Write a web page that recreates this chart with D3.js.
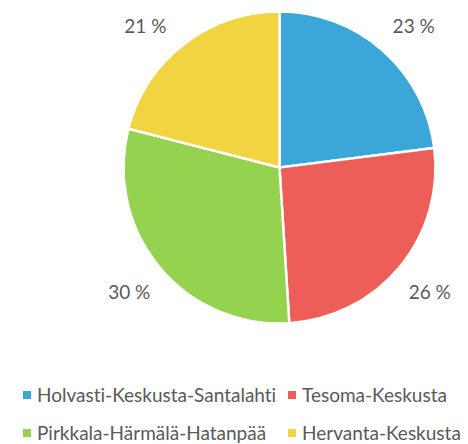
<!DOCTYPE html>
<html>
<head>
<meta charset="utf-8">
<script src="https://cdn.jsdelivr.net/npm/d3@7"></script>
<style>
  html, body { margin: 0; padding: 0; background: #fff; }
  svg { display: block; font-family: Lato, "Open Sans", sans-serif; font-variant-ligatures: none; }
</style>
</head>
<body>
<svg id="chart" width="468" height="444"></svg>
<script>
const categories = ['Holvasti-Keskusta-Santalahti', 'Tesoma-Keskusta', 'Pirkkala-Härmälä-Hatanpää', 'Hervanta-Keskusta'];
const shares = [23, 26, 30, 21];
const colors = ['#3BA6D8', '#EC5E57', '#94D250', '#F2D341'];

const svg = d3.select('#chart'),
  cx = 279.5, cy = 167.5, radius = 156,
  labelRadius = 195, labelTop = 26;

const pie = d3.pie().sort(null).value(d => d.value),
  arc = d3.arc().innerRadius(0).outerRadius(radius),
  color = d3.scaleOrdinal().domain(categories).range(colors);

const data = pie(categories.map((c, i) => ({ label: c, value: shares[i] })));

const g = svg.append('g').attr('transform', 'translate(' + cx + ',' + cy + ')');

g.selectAll('.slice')
  .data(data)
  .enter()
  .append('path')
  .attr('class', 'slice')
  .attr('d', arc)
  .style('fill', d => color(d.data.label))
  .style('stroke', '#fff')
  .style('stroke-width', 2.5);

// labels outside the pie, pushed along the circle when hitting the top
g.selectAll('.pct')
  .data(data)
  .enter()
  .append('text')
  .attr('class', 'pct')
  .attr('text-anchor', 'middle')
  .attr('dy', '0.36em')
  .style('font-size', '19px')
  .style('fill', '#595959')
  .attr('transform', d => {
    let a = (d.startAngle + d.endAngle) / 2,
      x = labelRadius * Math.sin(a),
      y = -labelRadius * Math.cos(a),
      minY = labelTop - cy;
    if (y < minY) {
      y = minY;
      x = Math.sign(x) * Math.sqrt(labelRadius * labelRadius - y * y);
    }
    return 'translate(' + x + ',' + y + ')';
  })
  .text(d => d.data.value + ' %');

// legend, two columns
const legend = svg.append('g').attr('class', 'legend'),
  colX = [23, 288], rowY = [402, 440];

const item = legend.selectAll('.item')
  .data(categories)
  .enter()
  .append('g')
  .attr('class', 'item')
  .attr('transform', (d, i) => 'translate(' + colX[i % 2] + ',' + rowY[Math.floor(i / 2)] + ')');

item.append('rect')
  .attr('x', 0)
  .attr('y', -11)
  .attr('width', 8)
  .attr('height', 8)
  .style('fill', d => color(d));

item.append('text')
  .attr('x', 14)
  .style('font-size', '19px')
  .style('fill', '#595959')
  .text(d => d);
</script>
</body>
</html>
